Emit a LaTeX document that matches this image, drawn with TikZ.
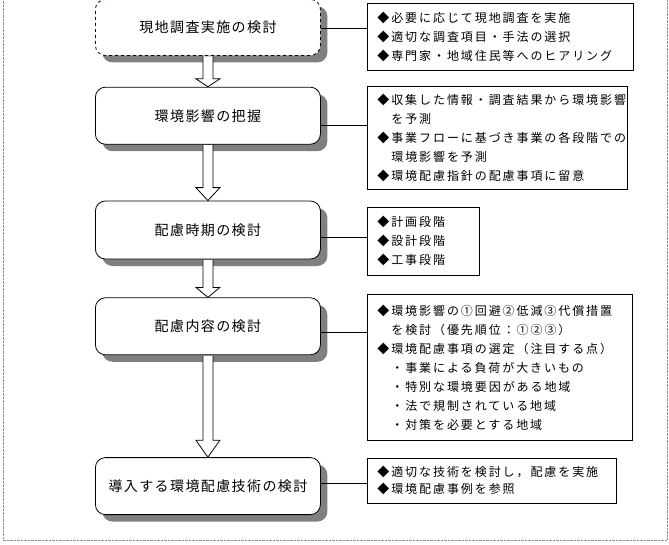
\documentclass[tikz,border=0pt]{standalone}
\usepackage{fontspec}
\usepackage{tikz}
\usetikzlibrary{positioning,shadows}
\newfontfamily\flowfont[LetterSpace=10]{Noto Sans CJK JP}
\newfontfamily\notefont[LetterSpace=16]{Noto Sans CJK JP}
\newcommand{\ind}{\hspace*{14pt}}
\newcommand{\flowarrow}[3]{%
  \draw[line width=0.8pt, fill=white] ([xshift=-5pt, yshift=-0.6pt]#1.south) -- ([xshift=-5pt, yshift=#3]#2.north)
    -- ([xshift=-12pt, yshift=#3]#2.north) -- (#2.north) -- ([xshift=12pt, yshift=#3]#2.north)
    -- ([xshift=5pt, yshift=#3]#2.north) -- ([xshift=5pt, yshift=-0.6pt]#1.south);}

\begin{document}
\begin{tikzpicture}[x=1pt, y=-1pt,
  flowbox/.style={draw, fill=white, rounded corners=10pt, line width=0.8pt, minimum width=225pt, minimum height=57pt,
    drop shadow={shadow xshift=7pt, shadow yshift=-7pt, fill=black!50, opacity=1},
    font=\flowfont\fontsize{14}{17}\selectfont},
  notebox/.style={draw, line width=0.8pt, anchor=north west, align=left, inner xsep=10pt, inner ysep=0pt,
    font=\notefont\fontsize{12}{19}\selectfont}]
  \useasboundingbox (0,0) rectangle (669,544);
  \draw[densely dotted, black!45] (3,-5) rectangle (667,540);

  \node[flowbox, dashed, anchor=north west, minimum height=56pt] (survey) at (95,-1) {現地調査実施の検討};
  \node[flowbox, below=31pt of survey] (grasp) {環境影響の把握};
  \node[flowbox, below=56pt of grasp, minimum height=58pt] (timing) {配慮時期の検討};
  \node[flowbox, below=38pt of timing] (content) {配慮内容の検討};
  \node[flowbox, below=102pt of content] (tech) {導入する環境配慮技術の検討};

  \node[notebox, text width=246pt, minimum height=67pt] (surveyinfo) at (367,3)
    {◆必要に応じて現地調査を実施\\◆適切な調査項目・手法の選択\\◆専門家・地域住民等へのヒアリング};
  \node[notebox, text width=240pt, minimum height=103pt] (graspinfo) at (367,86)
    {◆収集した情報・調査結果から環境影響\\\ind を予測\\◆事業フローに基づき事業の各段階での\\\ind 環境影響を予測\\◆環境配慮指針の配慮事項に留意};
  \node[notebox, text width=92pt, minimum height=68pt] (timinginfo) at (367,207)
    {◆計画段階\\◆設計段階\\◆工事段階};
  \node[notebox, text width=245pt, minimum height=146pt] (contentinfo) at (367,294)
    {◆環境影響の①回避②低減③代償措置\\\ind を検討（優先順位：①②③）\\◆環境配慮事項の選定（注目する点）\\\ind ・事業による負荷が大きいもの\\\ind ・特別な環境要因がある地域\\\ind ・法で規制されている地域\\\ind ・対策を必要とする地域};
  \node[notebox, text width=229pt, minimum height=45pt, font=\notefont\fontsize{12}{17}\selectfont] (techinfo) at (367,458)
    {◆適切な技術を検討し，配慮を実施\\◆環境配慮事例を参照};

  \flowarrow{survey}{grasp}{8pt}
  \flowarrow{grasp}{timing}{13pt}
  \flowarrow{timing}{content}{10pt}
  \flowarrow{content}{tech}{17pt}

  \draw[line width=0.8pt] (survey.east |- 0,28) -- (surveyinfo.west |- 0,28);
  \draw[line width=0.8pt] (grasp.east |- 0,125) -- (graspinfo.west |- 0,125);
  \draw[line width=0.8pt] (timing.east |- 0,237) -- (timinginfo.west |- 0,237);
  \draw[line width=0.8pt] (content.east |- 0,332) -- (contentinfo.west |- 0,332);
  \draw[line width=0.8pt] (tech.east |- 0,483) -- (techinfo.west |- 0,483);
\end{tikzpicture}
\end{document}
